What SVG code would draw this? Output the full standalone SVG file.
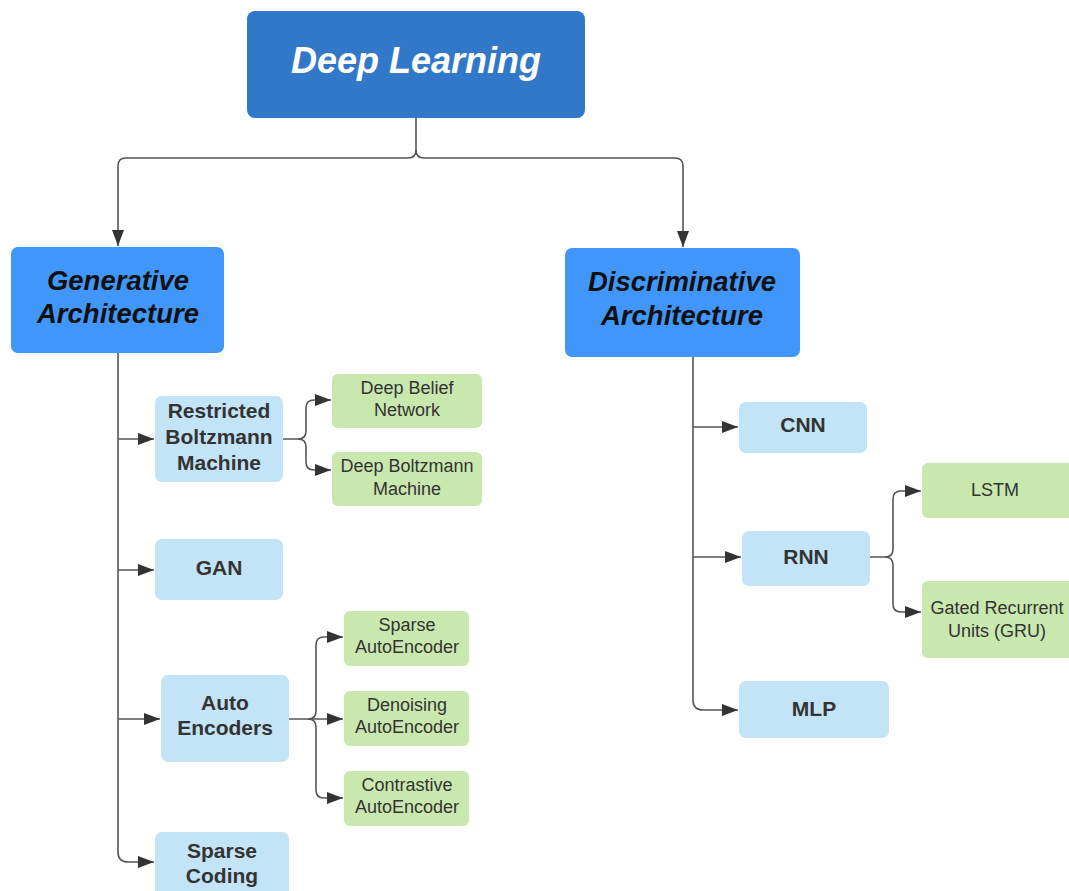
<svg xmlns="http://www.w3.org/2000/svg" width="1069" height="891" viewBox="0 0 1069 891">
<style>
.lk{fill:none;stroke:#555;stroke-width:1.6}
.top{fill:#3178C9}
.arch{fill:#4196FA}
.lb{fill:#C3E3F6}
.gr{fill:#C8E8AE}
.t1{font-family:"Liberation Sans",Arial,sans-serif;font-weight:bold;font-style:italic;font-size:36px;fill:#fff;text-anchor:middle}
.t2{font-family:"Liberation Sans",Arial,sans-serif;font-weight:bold;font-style:italic;font-size:27.5px;fill:#111;text-anchor:middle}
.t3{font-family:"Liberation Sans",Arial,sans-serif;font-weight:bold;font-size:21px;fill:#333;text-anchor:middle}
.t4{font-family:"Liberation Sans",Arial,sans-serif;font-size:18px;fill:#333;text-anchor:middle}
</style>
<defs>
<marker id="ah" viewBox="0 0 16 12" refX="16" refY="6" markerWidth="16" markerHeight="12" markerUnits="userSpaceOnUse" orient="auto">
<path d="M0,0 L16,6 L0,12 Z" fill="#333"/>
</marker>
</defs>
<rect width="1069" height="891" fill="#fff"/>
<g id="connectors">
<path class="lk" d="M416,118 V150 Q416,158 408,158 H126 Q118,158 118,166 V246" marker-end="url(#ah)"/>
<path class="lk" d="M416,150 Q416,158 424,158 H675 Q683,158 683,166 V247" marker-end="url(#ah)"/>
<path class="lk" d="M118,353 V852 Q118,862 128,862 H154" marker-end="url(#ah)"/>
<path class="lk" d="M118,439 H154" marker-end="url(#ah)"/>
<path class="lk" d="M118,570 H154" marker-end="url(#ah)"/>
<path class="lk" d="M118,719 H160" marker-end="url(#ah)"/>
<path class="lk" d="M283,439 H298 Q306,439 306,431 V408 Q306,400 314,400 H331" marker-end="url(#ah)"/>
<path class="lk" d="M298,439 Q306,439 306,447 V462 Q306,470 314,470 H331" marker-end="url(#ah)"/>
<path class="lk" d="M289,719 H308 Q316,719 316,711 V645 Q316,637 324,637 H343" marker-end="url(#ah)"/>
<path class="lk" d="M308,719 H343" marker-end="url(#ah)"/>
<path class="lk" d="M308,719 Q316,719 316,727 V790 Q316,798 324,798 H343" marker-end="url(#ah)"/>
<path class="lk" d="M693,357 V700 Q693,710 703,710 H738" marker-end="url(#ah)"/>
<path class="lk" d="M693,427 H738" marker-end="url(#ah)"/>
<path class="lk" d="M693,557 H741" marker-end="url(#ah)"/>
<path class="lk" d="M870,557 H885 Q893,557 893,549 V499 Q893,491 901,491 H921" marker-end="url(#ah)"/>
<path class="lk" d="M885,557 Q893,557 893,565 V604 Q893,612 901,612 H921" marker-end="url(#ah)"/>
</g>
<g id="deep-learning"><rect class="top" x="247" y="11" width="338" height="107" rx="8"/><text class="t1" x="416" y="73">Deep Learning</text></g>
<g id="generative"><rect class="arch" x="11" y="247" width="213" height="106" rx="7"/><text class="t2" x="118" y="290">Generative</text><text class="t2" x="118" y="323">Architecture</text></g>
<g id="discriminative"><rect class="arch" x="565" y="248" width="235" height="109" rx="7"/><text class="t2" x="682" y="291">Discriminative</text><text class="t2" x="682" y="325">Architecture</text></g>
<g id="rbm"><rect class="lb" x="155" y="396" width="128" height="86" rx="7"/><text class="t3" x="219" y="418">Restricted</text><text class="t3" x="219" y="444">Boltzmann</text><text class="t3" x="219" y="470">Machine</text></g>
<g id="dbn"><rect class="gr" x="332" y="374" width="150" height="54" rx="6"/><text class="t4" x="407" y="394">Deep Belief</text><text class="t4" x="407" y="416">Network</text></g>
<g id="dbm"><rect class="gr" x="332" y="452" width="150" height="54" rx="6"/><text class="t4" x="407" y="472">Deep Boltzmann</text><text class="t4" x="407" y="495">Machine</text></g>
<g id="gan"><rect class="lb" x="155" y="539" width="128" height="61" rx="7"/><text class="t3" x="219" y="575">GAN</text></g>
<g id="ae"><rect class="lb" x="161" y="675" width="128" height="87" rx="7"/><text class="t3" x="225" y="710">Auto</text><text class="t3" x="225" y="735">Encoders</text></g>
<g id="sae"><rect class="gr" x="344" y="611" width="125" height="55" rx="6"/><text class="t4" x="407" y="631">Sparse</text><text class="t4" x="407" y="653">AutoEncoder</text></g>
<g id="dae"><rect class="gr" x="344" y="691" width="125" height="55" rx="6"/><text class="t4" x="407" y="711">Denoising</text><text class="t4" x="407" y="733">AutoEncoder</text></g>
<g id="cae"><rect class="gr" x="344" y="771" width="125" height="55" rx="6"/><text class="t4" x="407" y="791">Contrastive</text><text class="t4" x="407" y="813">AutoEncoder</text></g>
<g id="sc"><rect class="lb" x="155" y="832" width="134" height="70" rx="7"/><text class="t3" x="222" y="858">Sparse</text><text class="t3" x="222" y="883">Coding</text></g>
<g id="cnn"><rect class="lb" x="739" y="402" width="128" height="51" rx="7"/><text class="t3" x="803" y="432">CNN</text></g>
<g id="rnn"><rect class="lb" x="742" y="531" width="128" height="55" rx="7"/><text class="t3" x="806" y="564">RNN</text></g>
<g id="lstm"><rect class="gr" x="922" y="463" width="155" height="55" rx="6"/><text class="t4" x="995" y="496">LSTM</text></g>
<g id="gru"><rect class="gr" x="922" y="581" width="155" height="77" rx="6"/><text class="t4" x="997" y="614">Gated Recurrent</text><text class="t4" x="997" y="637">Units (GRU)</text></g>
<g id="mlp"><rect class="lb" x="739" y="681" width="150" height="57" rx="7"/><text class="t3" x="814" y="716">MLP</text></g>
</svg>
